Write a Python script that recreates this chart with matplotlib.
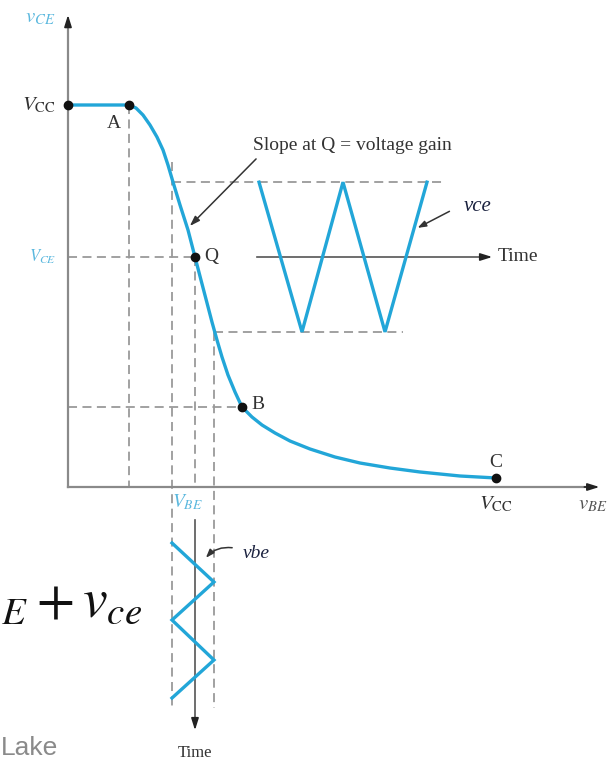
import matplotlib
matplotlib.use("Agg")
import matplotlib.pyplot as plt

plt.rcParams['mathtext.fontset'] = 'stix'
plt.rcParams['font.family'] = ['Liberation Serif', 'DejaVu Serif']

# transfer curve v_CE(v_BE), both in units of V_CC
curve_vbe = [0.0, 0.1425, 0.1589, 0.1752, 0.1916, 0.2079, 0.2220, 0.2336, 0.2453,
             0.2617, 0.2804, 0.2967, 0.3107, 0.3248, 0.3364, 0.3481, 0.3598, 0.3738,
             0.3902, 0.4065, 0.4299, 0.4533, 0.4836, 0.5187, 0.5654, 0.6238, 0.6822,
             0.7523, 0.8224, 0.9159, 1.0]
curve_vce = [1.0, 1.0, 0.9921, 0.9738, 0.9476, 0.9162, 0.8822, 0.8429, 0.7984,
             0.7382, 0.6728, 0.6021, 0.5419, 0.4817, 0.4319, 0.3848, 0.3403, 0.2932,
             0.2487, 0.2094, 0.1832, 0.1623, 0.1414, 0.1204, 0.0995, 0.0785, 0.0628,
             0.0497, 0.0393, 0.0288, 0.0236]

pt_names = ['A', 'Q', 'B', 'C']
pt_vbe = [0.1425, 0.2967, 0.4065, 1.0]
pt_vce = [1.0, 0.6021, 0.2094, 0.0236]

# input swing (vertical time axis, downward)
vbe_lo, vbe_hi = 0.243, 0.341
vbe_time = [-0.1466, -0.2487, -0.3482, -0.4529, -0.5524]
vbe_wave = [vbe_lo, vbe_hi, vbe_lo, vbe_hi, vbe_lo]

# output swing (horizontal time axis)
vce_lo, vce_hi = 0.406, 0.798
vce_time = [0.4463, 0.5467, 0.6425, 0.7407, 0.8388]
vce_wave = [vce_hi, vce_lo, vce_hi, vce_lo, vce_hi]

cyan = '#22a6d8'
dash_c = '#9a9a9a'
ink = '#333333'
light_cyan = '#5bb8de'

fig = plt.figure(figsize=(6.12, 7.63), dpi=100)
ax = fig.add_axes([0, 0, 1, 1])
ax.set_xlim(-68 / 428, 544 / 428)
ax.set_ylim((487 - 763) / 382, 487 / 382)
ax.axis('off')

dash = dict(color=dash_c, lw=1.3, linestyle=(0, (5, 3)), zorder=1)

# projections of A, Q, B onto the axes
A, Q, B, C = 0, 1, 2, 3
ax.plot([pt_vbe[A], pt_vbe[A]], [pt_vce[A], 0], **dash)
ax.plot([0, pt_vbe[Q]], [pt_vce[Q], pt_vce[Q]], **dash)
ax.plot([pt_vbe[Q], pt_vbe[Q]], [pt_vce[Q], 0], **dash)
ax.plot([0, pt_vbe[B]], [pt_vce[B], pt_vce[B]], **dash)

# swing limits
ax.plot([vbe_lo, vbe_lo], [0.851, -0.579], **dash)
ax.plot([vbe_hi, vbe_hi], [vce_lo, -0.579], **dash)
ax.plot([vbe_lo, 0.876], [vce_hi, vce_hi], **dash)
ax.plot([vbe_hi, 0.783], [vce_lo, vce_lo], **dash)

# main axes
ax.plot([0, 0], [0, 1.215], color='#8a8a8a', lw=1.6, zorder=2)
ax.plot([0, 1.22], [0, 0], color='#8a8a8a', lw=1.6, zorder=2)
head = dict(arrowstyle='-|>,head_length=0.7,head_width=0.22', color='#222222', lw=1.2)
ax.annotate('', xy=(0, 1.243), xytext=(0, 1.2), arrowprops=head)
ax.annotate('', xy=(1.248, 0), xytext=(1.2, 0), arrowprops=head)

# time axes
ax.plot([0.4416, 0.97], [pt_vce[Q], pt_vce[Q]], color='#555555', lw=1.2, zorder=2)
ax.annotate('', xy=(0.9977, pt_vce[Q]), xytext=(0.96, pt_vce[Q]), arrowprops=head)
ax.plot([pt_vbe[Q], pt_vbe[Q]], [-0.086, -0.62], color='#555555', lw=1.2, zorder=2)
ax.annotate('', xy=(pt_vbe[Q], -0.644), xytext=(pt_vbe[Q], -0.61), arrowprops=head)

# curve and waveforms
ax.plot(curve_vbe, curve_vce, color=cyan, lw=2.4, solid_capstyle='round', zorder=3)
ax.plot(vce_time, vce_wave, color=cyan, lw=2.4, solid_joinstyle='miter', zorder=3)
ax.plot(vbe_wave, vbe_time, color=cyan, lw=2.4, solid_joinstyle='miter', zorder=3)

ax.plot([0] + pt_vbe, [1.0] + pt_vce, 'o', color='#111111', ms=6, zorder=4)

# labels
lab = dict(color=ink, fontsize=14)
ax.text(pt_vbe[A] - 0.036, pt_vce[A] - 0.048, pt_names[A], ha='center', va='center', **lab)
ax.text(pt_vbe[Q] + 0.022, pt_vce[Q], pt_names[Q], ha='left', va='center', **lab)
ax.text(pt_vbe[B] + 0.022, pt_vce[B] + 0.006, pt_names[B], ha='left', va='center', **lab)
ax.text(pt_vbe[C], pt_vce[C] + 0.04, pt_names[C], ha='center', va='center', **lab)

ax.text(-0.065, 1.228, r'$v_{CE}$', color=light_cyan, fontsize=15, ha='center', va='center')
ax.text(-0.028, 1.0, r'$V_{\mathrm{CC}}$', color=ink, fontsize=15, ha='right', va='center')
ax.text(-0.028, pt_vce[Q], r'$V_{CE}$', color=light_cyan, fontsize=12, ha='right', va='center')
ax.text(1.0, -0.045, r'$V_{\mathrm{CC}}$', color=ink, fontsize=15, ha='center', va='center')
ax.text(1.226, -0.047, r'$v_{BE}$', color='#555555', fontsize=15, ha='center', va='center')
ax.text(0.278, -0.039, r'$V_{BE}$', color=light_cyan, fontsize=14, ha='center', va='center')

ax.text(0.664, 0.895, 'Slope at Q = voltage gain', **lab, ha='center', va='center')
ax.annotate('', xy=(0.280, 0.678), xytext=(0.444, 0.864),
            arrowprops=dict(arrowstyle='-|>,head_length=0.6,head_width=0.2',
                            color='#333333', lw=1.1))

ax.text(1.003, pt_vce[Q], 'Time', ha='left', va='center', **lab)
ax.text(pt_vbe[Q], -0.696, 'Time', ha='center', va='center', color=ink, fontsize=12)

ax.text(0.958, 0.733, 'vce', color='#1c2340', fontsize=15, style='italic',
        ha='center', va='center')
ax.annotate('', xy=(0.811, 0.675), xytext=(0.897, 0.725),
            arrowprops=dict(arrowstyle='-|>,head_length=0.5,head_width=0.18',
                            color='#333333', lw=1.1))
ax.text(0.439, -0.173, 'vbe', color='#1c2340', fontsize=14, style='italic',
        ha='center', va='center')
ax.annotate('', xy=(0.318, -0.191), xytext=(0.390, -0.160),
            arrowprops=dict(arrowstyle='-|>,head_length=0.5,head_width=0.18',
                            color='#333333', lw=1.1,
                            connectionstyle='arc3,rad=0.3'))

# slide fragments
ax.text(-0.157, -0.340, r'${}_{E} + v_{ce}$', color='#111111', fontsize=40,
        ha='left', va='baseline')
ax.text(-0.157, -0.7016, 'Lake', color='#8a8a8a', fontsize=19,
        family=['Liberation Sans', 'DejaVu Sans'], ha='left', va='baseline')

fig.savefig('out.png', dpi=100)
